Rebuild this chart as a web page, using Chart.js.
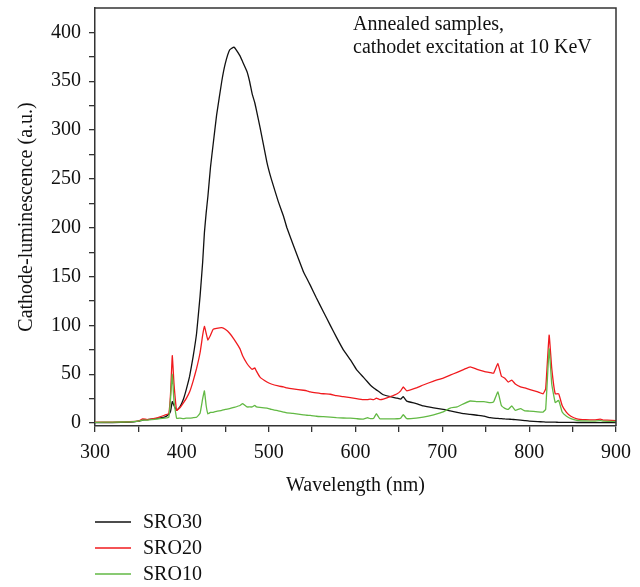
<!DOCTYPE html>
<html>
<head>
<meta charset="utf-8">
<script src="https://cdn.jsdelivr.net/npm/chart.js@4.4.1/dist/chart.umd.min.js"></script>
<style>
  html, body { margin: 0; padding: 0; background: #fff; }
  canvas { display: block; }
</style>
</head>
<body>
<canvas id="cl-chart" width="640" height="587"></canvas>
<script>
// Cathodoluminescence spectra of annealed samples

var wavelength = [
	300, 320, 340, 350, 355, 360, 370, 380, 385, 387,
	389, 391, 394, 398, 402, 405, 409, 413, 417, 421,
	424, 426, 428, 430, 433, 436, 440, 446, 450, 455,
	460, 467, 470, 475, 478, 481, 484, 486, 490, 498,
	503, 511, 517, 521, 528, 540, 544, 548, 555, 563,
	571, 578, 586, 594, 601, 609, 614, 617, 621, 624,
	628, 632, 640, 648, 652, 655, 659, 670, 678, 690,
	701, 709, 717, 725, 732, 740, 748, 755, 759, 764,
	768, 772, 776, 780, 784, 790, 795, 800, 810, 816,
	819, 823, 826, 830, 834, 838, 843, 848, 855, 865,
	875, 882, 885, 890, 900
];

var sro30 = [
	0.5, 0.5, 1, 2, 3, 3.5, 4.5, 6, 9, 12,
	22, 18, 13, 17, 25, 34, 48, 68, 92, 130,
	165, 195, 215, 232, 262, 285, 315, 350, 368, 382,
	385, 376, 370, 360, 350, 337, 328, 320, 303, 267,
	250, 227, 212, 200, 183, 155, 148, 141, 128, 114,
	100, 88, 75, 65, 55, 47, 42, 39, 36, 34,
	31.5, 29, 27, 25.5, 24.5, 27, 22.5, 20, 17.5, 15.5,
	14, 12.5, 11, 9.6, 9, 8, 7, 5.5, 5, 4.8,
	4.5, 4.2, 4, 3.8, 3.5, 3, 2.5, 2, 1.5, 1.2,
	1, 1, 1, 0.9, 0.8, 0.8, 0.7, 0.7, 0.6, 0.6,
	0.5, 0.5, 0.5, 0.5, 0.5
];

var sro20 = [
	1, 1, 1.5, 2, 4.4, 3.5, 5, 8, 10, 30,
	69, 40, 13, 16, 21, 25, 32, 43, 56, 72,
	90, 99, 92, 85, 90, 96, 97, 97.7, 96, 92,
	86, 76, 69, 61, 57.6, 55, 56.5, 53, 47, 42,
	40, 38, 37, 36, 35, 33.6, 33, 32, 31, 30,
	29.5, 28, 27, 26, 25, 24, 24, 24.5, 24, 25.5,
	24, 24.5, 27, 30, 33, 37, 33, 36, 39, 43,
	46, 49, 52, 55, 57.6, 55, 53, 51.7, 51, 61,
	48, 46, 42, 44, 40, 37, 36, 34.6, 32, 30,
	35, 90, 56, 30, 30, 18, 11, 7, 4.4, 3.5,
	3.2, 4, 3, 3, 2.5
];

var sro10 = [
	0.8, 1, 1.2, 2, 3, 3, 4, 5, 6, 25,
	50, 22, 5, 5, 4.5, 5, 5, 5.5, 6, 10,
	25, 33, 18, 9.5, 11, 11, 12, 13, 14, 14.7,
	16, 18, 20, 16.5, 16.5, 16.5, 18.2, 16.5, 16, 15.4,
	14, 12.5, 11.3, 10.5, 10, 8.5, 8, 7.9, 7, 6.5,
	6, 5.5, 5.2, 5, 4.5, 4, 5.5, 4.5, 5, 9.6,
	4.4, 4.3, 4.2, 4.4, 5, 8.6, 4.5, 5, 6, 8.5,
	11.5, 15.4, 16.5, 20, 22.6, 22, 22, 21, 21.6, 31.9,
	18, 15, 14, 17.5, 13, 14.7, 12.5, 12.3, 11.5, 11.3,
	14, 76, 40, 21, 23.3, 11.3, 6.9, 4.5, 2.8, 2.2,
	2, 2.5, 2, 1.8, 1.5
];

var seriesLabels = ['SRO30', 'SRO20', 'SRO10'];
var seriesColors = ['#111111', '#f01a1e', '#62b944'];

var xTicks = [300, 350, 400, 450, 500, 550, 600, 650, 700, 750, 800, 850, 900];
var yTicks = [0, 25, 50, 75, 100, 125, 150, 175, 200, 225, 250, 275, 300, 325, 350, 375, 400];

var noteLines = ['Annealed samples,', 'cathodet excitation at 10 KeV'];

var serif = "'Liberation Serif', 'Times New Roman', serif";

function toPoints(ys) {
	return wavelength.map(function(x, i){ return { x: x, y: ys[i] }; });
}

// frame on top/right, the note and a stacked legend under the axis
var extrasPlugin = {
	id: 'extras',
	afterDraw: function(chart) {
		var ctx = chart.ctx;
		var a = chart.chartArea;
		ctx.save();
		ctx.strokeStyle = '#333';
		ctx.lineWidth = 1.5;
		ctx.beginPath();
		ctx.moveTo(a.left, a.top);
		ctx.lineTo(a.right, a.top);
		ctx.lineTo(a.right, a.bottom);
		ctx.stroke();

		ctx.fillStyle = '#111';
		ctx.font = '20px ' + serif;
		ctx.textAlign = 'left';
		ctx.textBaseline = 'alphabetic';
		ctx.fillText(noteLines[0], a.left + 258, 30);
		ctx.fillText(noteLines[1], a.left + 258, 53);

		ctx.textBaseline = 'middle';
		chart.data.datasets.forEach(function(ds, i){
			var y = 522 + i * 26;
			ctx.strokeStyle = ds.borderColor;
			ctx.lineWidth = 1.6;
			ctx.beginPath();
			ctx.moveTo(95, y);
			ctx.lineTo(131, y);
			ctx.stroke();
			ctx.fillStyle = '#111';
			ctx.fillText(ds.label, 143, y + 1);
		});
		ctx.restore();
	}
};

window.addEventListener('load', function(){
	var ctx = document.getElementById('cl-chart').getContext('2d');
	new Chart(ctx, {
		type: 'line',
		data: {
			datasets: [
				{ label: seriesLabels[0], data: toPoints(sro30), borderColor: seriesColors[0], order: 3 },
				{ label: seriesLabels[1], data: toPoints(sro20), borderColor: seriesColors[1], order: 2 },
				{ label: seriesLabels[2], data: toPoints(sro10), borderColor: seriesColors[2], order: 1 }
			]
		},
		options: {
			responsive: false,
			animation: false,
			parsing: false,
			layout: { padding: { left: 15, right: 24, top: 8, bottom: 89 } },
			elements: {
				point: { radius: 0 },
				line: { borderWidth: 1.3, tension: 0.1, fill: false }
			},
			plugins: {
				legend: { display: false },
				tooltip: { enabled: false }
			},
			scales: {
				x: {
					type: 'linear',
					min: 300,
					max: 900,
					afterBuildTicks: function(axis){
						axis.ticks = xTicks.map(function(v){ return { value: v }; });
					},
					ticks: {
						autoSkip: false,
						maxRotation: 0,
						color: '#111',
						padding: 9,
						font: { family: serif, size: 20 },
						callback: function(v){ return v % 100 === 0 ? v : ''; }
					},
					grid: { drawOnChartArea: false, drawTicks: true, tickLength: 6, color: '#333', lineWidth: 1.3 },
					border: { color: '#333', width: 1.5 },
					title: {
						display: true,
						text: 'Wavelength (nm)',
						color: '#111',
						font: { family: serif, size: 20 },
						padding: { top: 0, bottom: 0 }
					}
				},
				y: {
					type: 'linear',
					min: -3,
					max: 425,
					afterBuildTicks: function(axis){
						axis.ticks = yTicks.map(function(v){ return { value: v }; });
					},
					// the top label sits well below the frame, so no extra room is needed above
					afterFit: function(axis){
						axis.paddingTop = 0;
					},
					ticks: {
						autoSkip: false,
						color: '#111',
						padding: 8,
						font: { family: serif, size: 20 },
						callback: function(v){ return v % 50 === 0 ? v : ''; }
					},
					grid: { drawOnChartArea: false, drawTicks: true, tickLength: 6, color: '#333', lineWidth: 1.3 },
					border: { color: '#333', width: 1.5 },
					title: {
						display: true,
						text: 'Cathode-luminescence (a.u.)',
						color: '#111',
						font: { family: serif, size: 20 },
						padding: { top: 0, bottom: 4 }
					}
				}
			}
		},
		plugins: [extrasPlugin]
	});
});
</script>
</body>
</html>
